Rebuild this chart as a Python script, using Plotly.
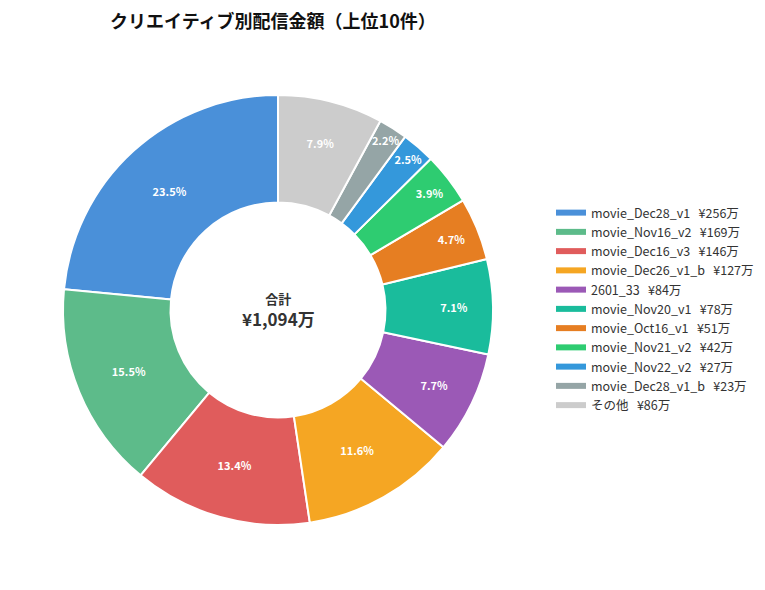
import math
import plotly.graph_objects as go

names = ["movie_Dec28_v1", "movie_Nov16_v2", "movie_Dec16_v3", "movie_Dec26_v1_b",
         "2601_33", "movie_Nov20_v1", "movie_Oct16_v1", "movie_Nov21_v2",
         "movie_Nov22_v2", "movie_Dec28_v1_b", "その他"]
# amounts in yen (estimated from legend values and slice percentages)
amounts = [2568000, 1697000, 1467000, 1272000, 843000, 780000, 515000,
           427000, 274000, 239000, 864000]
colors = ["#4A90D9", "#5DBB8A", "#E05C5C", "#F5A623", "#9B59B6", "#1ABC9C",
          "#E67E22", "#2ECC71", "#3498DB", "#95A5A6", "#CCCCCC"]

def man(v):
    return math.floor(v / 10000)

SP = "\u00a0\u00a0\u00a0"
legend_labels = [f"{n}{SP}¥{man(v):,}万" for n, v in zip(names, amounts)]
total = sum(amounts)

FONT = "Noto Sans CJK JP"
W, H = 765, 590
OFF = 8  # page offset

def px(x):
    return (x - OFF) / W

def py(y):
    return 1 - (y - OFF) / H

cx, cy, r = 278, 310, 215
dom_x = [px(cx - r), px(cx + r)]
dom_y = [py(cy + r), py(cy - r)]

fig = go.Figure()
fig.add_trace(go.Pie(
    labels=legend_labels,
    values=amounts,
    sort=False,
    direction="counterclockwise",
    rotation=-360 * amounts[0] / total,
    hole=0.5,
    marker=dict(colors=colors, line=dict(color="white", width=2)),
    texttemplate="<b>%{percent:.1%}</b>",
    textposition="inside",
    insidetextorientation="horizontal",
    textfont=dict(color="white", size=11, family=FONT),
    domain=dict(x=dom_x, y=dom_y),
    showlegend=False,
    hoverinfo="label+percent",
))

# legend entries (wide colour bars like the reference)
for lab, col in zip(legend_labels, colors):
    fig.add_trace(go.Scatter(x=[None], y=[None], mode="lines", name=lab,
                             line=dict(color=col, width=6), hoverinfo="skip"))

fig.update_layout(
    width=W, height=H,
    margin=dict(l=0, r=0, t=0, b=0),
    paper_bgcolor="white",
    plot_bgcolor="white",
    font=dict(family=FONT, color="#333333"),
    xaxis=dict(visible=False, domain=[0.99, 1.0]),
    yaxis=dict(visible=False, domain=[0.99, 1.0]),
    title=dict(text="<b>クリエイティブ別配信金額（上位10件）</b>",
               x=px(110), xanchor="left", y=py(22), yanchor="middle",
               font=dict(size=18, color="#111111", family=FONT)),
    uniformtext=dict(minsize=11, mode="show"),
    legend=dict(x=px(551), xanchor="left", y=py(309), yanchor="middle",
                font=dict(size=12.5, color="#333333", family=FONT),
                tracegroupgap=0, bgcolor="rgba(0,0,0,0)"),
    annotations=[dict(
        text=f"<b><span style='font-size:13px'>合計</span><br>¥{man(total):,}万</b>",
        x=(dom_x[0] + dom_x[1]) / 2, y=(dom_y[0] + dom_y[1]) / 2,
        xref="paper", yref="paper",
        showarrow=False, font=dict(size=17, color="#333333", family=FONT))],
)

fig.write_html("out.html")
